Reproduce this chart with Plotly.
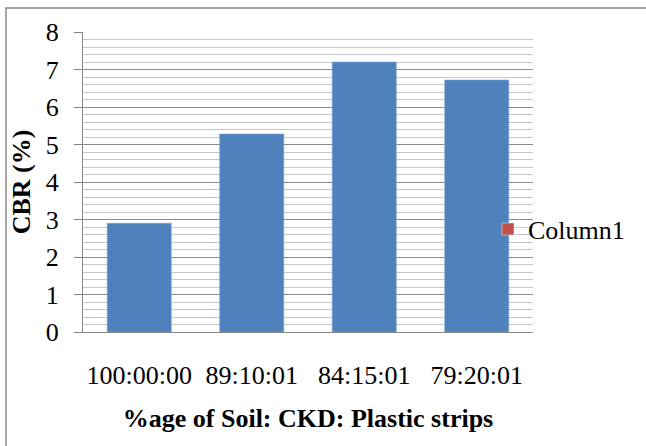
import plotly.graph_objects as go

# Mix proportions (Soil : CKD : Plastic strips) and measured CBR values
categories = ["100:00:00", "89:10:01", "84:15:01", "79:20:01"]
cbr_values = [2.9, 5.28, 7.2, 6.72]
column1_values = [None, None, None, None]

y_ticks = [0, 1, 2, 3, 4, 5, 6, 7, 8]

FONT = "Liberation Serif"
FS = 26

fig = go.Figure()
fig.add_trace(go.Bar(
    x=categories, y=cbr_values, name="CBR",
    marker=dict(color="#4F81BD", line=dict(color="#7ea3d3", width=0.6)),
    showlegend=False,
))
fig.add_trace(go.Bar(
    x=categories, y=column1_values, name="Column1",
    marker=dict(color="#C0504D"),
    showlegend=True,
))

fig.update_layout(
    width=646, height=446,
    margin=dict(l=83, r=113, t=32, b=114),
    paper_bgcolor="white", plot_bgcolor="white",
    font=dict(family=FONT, size=FS, color="black"),
    barmode="overlay",
    bargap=0.43,
    legend=dict(
        x=0.9, y=0.343, xanchor="left", yanchor="middle",
        bgcolor="rgba(0,0,0,0)", font=dict(family=FONT, size=FS, color="black"),
        itemwidth=30,
    ),
    xaxis=dict(
        showline=True, linecolor="#868686", linewidth=1,
        showgrid=False, ticks="", ticklabelstandoff=20,
        tickfont=dict(family=FONT, size=FS),
        title=dict(text="<b>%age of Soil: CKD: Plastic strips</b>",
                   font=dict(family=FONT, size=FS), standoff=19),
    ),
    yaxis=dict(
        range=[0, 8], tickvals=y_ticks,
        showline=True, linecolor="#868686", linewidth=1,
        ticks="outside", ticklen=8, tickcolor="#868686",
        ticklabelstandoff=10,
        tickfont=dict(family=FONT, size=FS),
        showgrid=True, gridcolor="#8c8c8c", gridwidth=1,
        minor=dict(dtick=0.2, showgrid=True, gridcolor="#c8c8c8", gridwidth=1, ticks=""),
        zeroline=False,
        title=dict(text="<b>CBR (%)</b>", font=dict(family=FONT, size=FS), standoff=7),
    ),
    shapes=[dict(
        type="rect", xref="paper", yref="paper",
        x0=-0.1711, y0=-0.4, x1=1.3, y1=1.08,
        line=dict(color="#888888", width=1.5), fillcolor="rgba(0,0,0,0)",
        layer="below",
    )],
)

fig.write_html("out.html")
